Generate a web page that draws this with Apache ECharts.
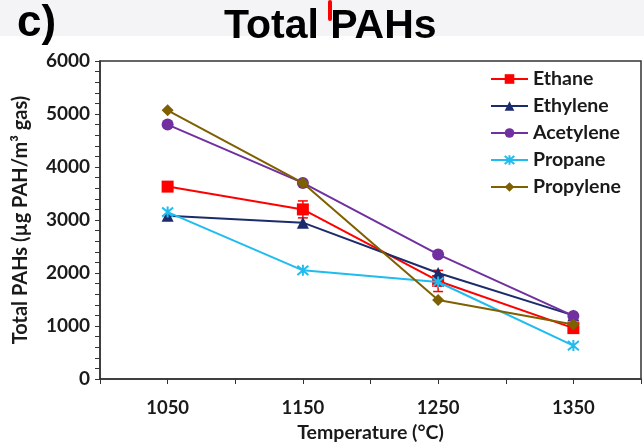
<!DOCTYPE html>
<html><head><meta charset="utf-8">
<script src="https://cdn.jsdelivr.net/npm/echarts@6/dist/echarts.min.js"></script>
<style>html,body{margin:0;padding:0;background:#fff}#c{width:644px;height:448px}</style>
</head><body><div id="c"></div>
<script>
var temperatures = [1050, 1150, 1250, 1350];
var ethane = [3630, 3200, 1850, 960];
var ethaneErr = [0, 160, 200, 0];
var ethylene = [3080, 2950, 2000, 1200];
var acetylene = [4800, 3700, 2350, 1190];
var propane = [3150, 2050, 1830, 630];
var propylene = [5070, 3700, 1490, 1030];
var yTicks = [0, 1000, 2000, 3000, 4000, 5000, 6000];
var xLabels = [1050, 1150, 1250, 1350];

var F = 'Lato, "Liberation Sans", sans-serif';
function pts(arr){ return temperatures.map(function(t,i){ return [t, arr[i]]; }); }

var chart = echarts.init(document.getElementById('c'), null, {renderer:'canvas'});
var names = ['Ethane','Ethylene','Acetylene','Propane','Propylene'];
var colors = ['#ff0000','#1c2b6b','#7030a0','#1fbcf0','#7f6000'];
var symbols = ['rect','triangle','circle','path://M-1,-1L1,1M1,-1L-1,1M0,-1.2L0,1.2','diamond'];
var sizes = [12,12,12,11,12];
var datas = [ethane, ethylene, acetylene, propane, propylene];

var series = names.map(function(n,i){
  var s = {name:n, type:'line', data:pts(datas[i]), symbol:symbols[i], symbolSize:sizes[i],
    lineStyle:{color:colors[i], width:2}, itemStyle:{color:colors[i]}, z:3+i, animation:false};
  if (i===3) { s.itemStyle = {color:colors[i], borderColor:colors[i], borderWidth:2}; }
  return s;
});
series.push({
  type:'custom', name:'err', animation:false, z:2,
  data: temperatures.map(function(t,i){ return [t, ethane[i]-ethaneErr[i], ethane[i]+ethaneErr[i]]; }),
  renderItem:function(params, api){
    var lo = api.coord([api.value(0), api.value(1)]);
    var hi = api.coord([api.value(0), api.value(2)]);
    var st = {stroke:'#ff0000', lineWidth:1.5};
    return {type:'group', children:[
      {type:'line', shape:{x1:lo[0],y1:lo[1],x2:hi[0],y2:hi[1]}, style:st},
      {type:'line', shape:{x1:lo[0]-5,y1:lo[1],x2:lo[0]+5,y2:lo[1]}, style:st},
      {type:'line', shape:{x1:hi[0]-5,y1:hi[1],x2:hi[0]+5,y2:hi[1]}, style:st}
    ]};
  }
});

chart.setOption({
  backgroundColor:'#ffffff',
  animation:false,
  graphic:[
    {type:'rect', shape:{x:0,y:0,width:644,height:36}, style:{fill:'#f4f4f6'}, z:-10},
    {type:'rect', shape:{x:328,y:0,width:4,height:21,r:2}, style:{fill:'#ff0000'}, z:10},
    {type:'text', left:17, top:2, style:{text:'c)', font:'bold 44px "Liberation Sans", Arial, sans-serif', fill:'#000'}},
    {type:'text', left:224, top:6, style:{text:'Total PAHs', font:'bold 41px "Liberation Sans", Arial, sans-serif', fill:'#000'}}
  ],
  grid:{left:100, right:2, top:61, bottom:66, show:true, borderColor:'#333', borderWidth:1.5, backgroundColor:'transparent'},
  legend:{
    data:names, orient:'vertical', left:490, top:69, padding:0, itemWidth:37, itemHeight:12, itemGap:7,
    textStyle:{fontFamily:F, fontSize:19.5, lineHeight:20, fontWeight:'bold', color:'#1a1a1a'}
  },
  xAxis:{
    type:'value', min:1000, max:1400, interval:50,
    axisLine:{lineStyle:{color:'#333', width:1.5}},
    axisTick:{show:true, inside:false, length:5, lineStyle:{color:'#333'}},
    splitLine:{show:false},
    axisLabel:{margin:20, fontFamily:F, fontSize:18.5, fontWeight:'bold', color:'#1a1a1a',
      formatter:function(v){ return xLabels.indexOf(v) >= 0 ? String(v) : ''; }},
    name:'Temperature (°C)', nameLocation:'middle', nameGap:44,
    nameTextStyle:{fontFamily:F, fontSize:19.5, fontWeight:'bold', color:'#1a1a1a'}
  },
  yAxis:{
    type:'value', min:0, max:6000, interval:1000,
    axisLine:{show:true, lineStyle:{color:'#333', width:1.5}},
    axisTick:{show:true, length:5, lineStyle:{color:'#333'}},
    minorTick:{show:true, splitNumber:5, length:5, lineStyle:{color:'#333'}},
    splitLine:{show:false},
    axisLabel:{margin:10, fontFamily:F, fontSize:19, fontWeight:'bold', color:'#1a1a1a',
      formatter:function(v){ return yTicks.indexOf(v) >= 0 ? String(v) : ''; }},
    name:'Total PAHs (µg PAH/m³ gas)', nameLocation:'middle', nameGap:69, nameRotate:90,
    nameTextStyle:{fontFamily:F, fontSize:20, fontWeight:'bold', color:'#1a1a1a'}
  },
  series:series
});
</script></body></html>
